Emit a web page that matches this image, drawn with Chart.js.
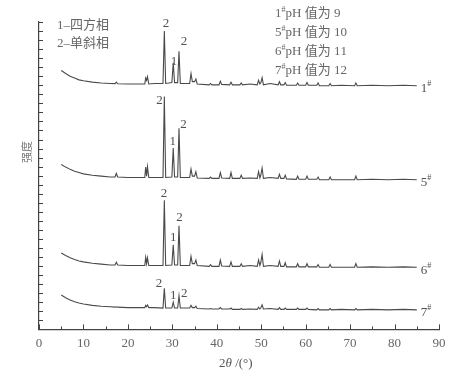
<!DOCTYPE html>
<html>
<head>
<meta charset="utf-8">
<script src="https://cdn.jsdelivr.net/npm/chart.js@4.4.1/dist/chart.umd.min.js"></script>
<style>
html, body { margin: 0; padding: 0; background: #fff; }
#wrap { width: 465px; height: 374px; }
</style>
</head>
<body>
<div id="wrap"><canvas id="graf"></canvas></div>
<script>
// 2θ grid (deg)
const twoTheta = [5, 6, 7, 8, 9, 10, 12, 14, 16, 17.1, 17.4, 17.7, 20, 23.5, 23.8, 24.0, 24.2, 24.4, 24.7, 26,
  27.9, 28.2, 28.5, 29.9, 30.2, 30.5, 31.2, 31.5, 31.8, 33.9, 34.2, 34.5, 35.0, 35.3, 35.6, 38.3, 38.6, 38.9,
  40.5, 40.8, 41.1, 42.9, 43.2, 43.5, 45.2, 45.5, 45.8, 47.5, 49.1, 49.4, 49.7, 49.9, 50.2, 50.5, 52,
  53.8, 54.1, 54.4, 55.1, 55.4, 55.7, 57.9, 58.2, 58.5, 60.0, 60.3, 60.6, 62.5, 62.8, 63.1, 65.2, 65.5, 65.8,
  68, 71.0, 71.3, 71.6, 75, 78.5, 82, 85]

// intensities (relative to each trace's baseline)
const xrd1 = [16.8, 13.5, 10.5, 8.5, 6.5, 5.5, 4, 3, 2.5, 2.3, 4, 2.2, 2, 2, 2, 8.5, 6, 10, 2, 2.5,
  2.5, 60.5, 2.5, 3.5, 25.5, 3.5, 3.5, 38, 2.5, 2.5, 13.5, 4.5, 4.5, 7.5, 2, 1, 2.5, 1,
  1, 5, 1.5, 1, 4, 1, 1, 3, 1, 2, 1, 6, 2, 3, 9, 1, 2.5,
  1, 4.5, 1, 1, 3.5, 0.5, 0.5, 3, 0.5, 0.5, 3.5, 0.5, 0.5, 3, 0, 0, 2.5, 0,
  0.5, 0, 3, 0, 0.5, 0, 0.5, 0]
const xrd5 = [16.8, 14, 11.5, 9.5, 8, 6.5, 5, 4, 3, 3, 7, 3, 2.5, 2.5, 2.5, 14, 4, 14.5, 2.5, 2.5,
  2.5, 92, 2.5, 3, 35, 3, 3, 57, 2.5, 2.5, 12, 4, 4, 9, 2, 1.5, 3, 1.5,
  1.5, 8, 2, 1.5, 8, 1.5, 1.5, 5, 1.5, 2, 1.5, 9, 2, 5, 13, 1.5, 2.5,
  1.5, 6, 1.5, 1.5, 5, 1, 0.5, 4, 0.5, 0.5, 4, 0.5, 0.5, 3, 0, 0, 3, 0,
  0, 0, 4, 0, 0.5, 0, 0.5, 0]
const xrd6 = [15.7, 13, 10.5, 8.5, 7, 6, 4.5, 3.5, 2.5, 2.5, 5.5, 2.5, 2, 2, 2, 11, 4, 10.5, 2, 2,
  2, 74, 2, 2.5, 25, 2.5, 2.5, 46, 2, 2, 12, 4, 4, 8, 2, 1, 3, 1,
  1, 8, 1.5, 1, 6, 1, 1, 4, 1, 2, 1, 8, 2, 5, 14, 1, 2,
  1, 7, 1, 1, 5, 0.5, 0.5, 4, 0.5, 0.5, 4, 0.5, 0.5, 3, 0, 0, 3, 0,
  0, 0, 4, 0, 0.5, 0, 0.5, 0]
const xrd7 = [16.4, 13.5, 11, 9, 7.5, 6.5, 5, 4, 3.5, 3, 3.5, 3, 2.5, 2.5, 2.5, 5, 3.5, 5.5, 2.5, 2.5,
  2, 24, 2, 2, 8.5, 2, 2, 15.5, 2, 2, 5, 2.5, 2.5, 4, 1.5, 1, 1.5, 1,
  1, 2.5, 1, 1, 2, 0.5, 0.5, 1.5, 0.5, 1, 0.5, 3, 1, 2, 5.5, 1, 1.5,
  0.5, 2.5, 0.5, 0.5, 2, 0.5, 0.5, 2, 0.5, 0.5, 2, 0.5, 0, 1.5, 0, 0, 1.5, 0,
  0.5, 0, 1.5, 0, 0.5, 0, 0.5, 0]

const samples = ['1#', '5#', '6#', '7#']
const offsets = [269.5, 165.5, 68.7, 21.6]
const phaseNotes = ['1–四方相', '2–单斜相']
const phNotes = ['1#pH 值为 9', '5#pH 值为 10', '6#pH 值为 11', '7#pH 值为 12']
// peak marks: [2θ, intensity, text]
const peakMarks = [
  [28.6, 338, '2'], [30.4, 296, '1'], [32.6, 318, '2'],
  [27.1, 253, '2'], [30.1, 208, '1'], [32.5, 226, '2'],
  [28.1, 150, '2'], [30.2, 102, '1'], [31.6, 124, '2'],
  [27.0, 51, '2'], [30.2, 37, '1'], [32.7, 40, '2']
]

const series = [xrd1, xrd5, xrd6, xrd7]
const SERIF = "'Liberation Serif', 'DejaVu Serif', 'Noto Sans CJK SC', serif"
const INK = '#505050'

// writes "1#..." with the # raised and small
function tagText(ctx, txt, x, y, size) {
  let cx = x
  for (const ch of txt) {
    if (ch === '#') {
      ctx.font = (size - 5) + 'px ' + SERIF
      ctx.fillText('#', cx, y - size * 0.35)
      cx += ctx.measureText('#').width
    } else {
      ctx.font = size + 'px ' + SERIF
      ctx.fillText(ch, cx, y)
      cx += ctx.measureText(ch).width
    }
  }
}

const extras = {
  id: 'extras',
  afterDraw(chart) {
    const { ctx, chartArea: a, scales: { x, y } } = chart
    ctx.save()
    ctx.strokeStyle = '#444'
    ctx.lineWidth = 1
    for (let v = 0; v <= 90; v += 5) {
      const px = Math.round(x.getPixelForValue(v)) + 0.5
      ctx.beginPath()
      ctx.moveTo(px, a.bottom)
      ctx.lineTo(px, a.bottom - (v % 10 === 0 ? 5 : 3))
      ctx.stroke()
    }
    for (let v = 10; v <= 340; v += 10) {
      const py = Math.round(y.getPixelForValue(v)) + 0.5
      ctx.beginPath()
      ctx.moveTo(a.left, py)
      ctx.lineTo(a.left + 4, py)
      ctx.stroke()
    }
    ctx.fillStyle = INK
    ctx.textBaseline = 'middle'
    ctx.textAlign = 'center'
    ctx.font = '13px ' + SERIF
    peakMarks.forEach(m => {
      ctx.fillText(m[2], x.getPixelForValue(m[0]), y.getPixelForValue(m[1]))
    })
    ctx.textAlign = 'left'
    samples.forEach((s, i) => {
      tagText(ctx, s, x.getPixelForValue(85) + 4, y.getPixelForValue(offsets[i]) + 3, 13)
    })
    ctx.fillStyle = '#666'
    phaseNotes.forEach((t, i) => {
      ctx.font = '13px ' + SERIF
      ctx.fillText(t, 57, 26 + i * 18)
    })
    phNotes.forEach((t, i) => {
      tagText(ctx, t, 275, 14 + i * 19, 13)
    })
    // x title: 2θ /(°)
    ctx.fillStyle = '#555'
    let tx = 219
    const ty = a.bottom + 34
    ctx.font = '13px ' + SERIF
    ctx.fillText('2', tx, ty); tx += ctx.measureText('2').width
    ctx.font = 'italic 13px ' + SERIF
    ctx.fillText('θ', tx, ty); tx += ctx.measureText('θ').width
    ctx.font = '13px ' + SERIF
    ctx.fillText(' /(°)', tx, ty)
    // y title
    ctx.fillStyle = '#777'
    ctx.translate(27, 152)
    ctx.rotate(-Math.PI / 2)
    ctx.textAlign = 'center'
    ctx.font = "11px 'Noto Sans CJK SC'"
    ctx.fillText('强度', 0, 0)
    ctx.restore()
  }
}

new Chart(document.getElementById('graf'), {
  type: 'line',
  data: {
    datasets: series.map((arr, i) => ({
      label: samples[i],
      data: twoTheta.map((t, j) => ({ x: t, y: arr[j] + offsets[i] })),
      borderColor: '#4a4a4a',
      borderWidth: 1.1,
      pointRadius: 0,
      tension: 0,
      fill: false
    }))
  },
  options: {
    responsive: true,
    maintainAspectRatio: false,
    animation: false,
    layout: { padding: { left: 39, right: 26, top: 22, bottom: 17 } },
    plugins: { legend: { display: false }, tooltip: { enabled: false } },
    scales: {
      x: {
        type: 'linear',
        min: 0,
        max: 90,
        ticks: { stepSize: 10, padding: 6, color: '#666', font: { family: SERIF, size: 13 } },
        grid: { display: true, drawOnChartArea: false, drawTicks: false },
        border: { color: '#444', width: 1.2 }
      },
      y: {
        min: 0,
        max: 340,
        ticks: { display: false },
        grid: { display: true, drawOnChartArea: false, drawTicks: false },
        border: { color: '#444', width: 1.2 }
      }
    }
  },
  plugins: [extras]
})
</script>
</body>
</html>
